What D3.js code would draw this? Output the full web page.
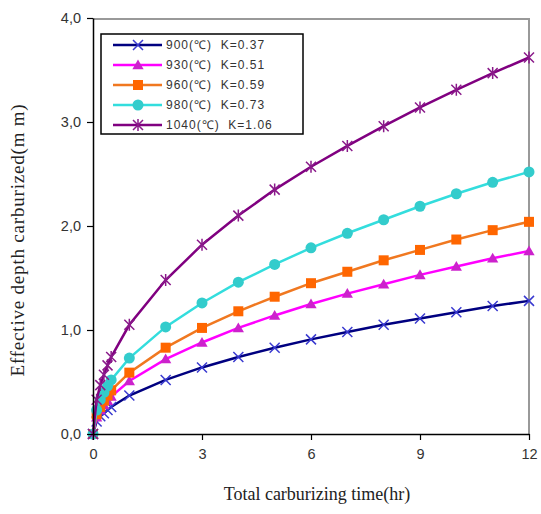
<!DOCTYPE html>
<html><head><meta charset="utf-8">
<script src="https://cdn.jsdelivr.net/npm/d3@7"></script>
<style>body{margin:0;background:#fff}svg{display:block}</style>
</head><body>
<svg id="c" width="541" height="514"></svg>
<script>
const times = [0, 0.1, 0.2, 0.3, 0.4, 0.5, 1, 2, 3, 4, 5, 6, 7, 8, 9, 10, 11, 12];
const s900  = [0, 0.12, 0.17, 0.20, 0.23, 0.26, 0.37, 0.52, 0.64, 0.74, 0.83, 0.91, 0.98, 1.05, 1.11, 1.17, 1.23, 1.28];
const s930  = [0, 0.16, 0.23, 0.28, 0.32, 0.36, 0.51, 0.72, 0.88, 1.02, 1.14, 1.25, 1.35, 1.44, 1.53, 1.61, 1.69, 1.76];
const s960  = [0, 0.19, 0.26, 0.32, 0.37, 0.42, 0.59, 0.83, 1.02, 1.18, 1.32, 1.45, 1.56, 1.67, 1.77, 1.87, 1.96, 2.04];
const s980  = [0, 0.23, 0.33, 0.40, 0.46, 0.52, 0.73, 1.03, 1.26, 1.46, 1.63, 1.79, 1.93, 2.06, 2.19, 2.31, 2.42, 2.52];
const s1040 = [0, 0.33, 0.47, 0.57, 0.66, 0.74, 1.05, 1.48, 1.82, 2.10, 2.35, 2.57, 2.77, 2.96, 3.14, 3.31, 3.47, 3.62];
const seriesNames = ["900(℃)  K=0.37", "930(℃)  K=0.51", "960(℃)  K=0.59", "980(℃)  K=0.73", "1040(℃)  K=1.06"];
const xTicks = [0, 3, 6, 9, 12];
const yTicks = [0, 1, 2, 3, 4];
const yTickLabels = ["0,0", "1,0", "2,0", "3,0", "4,0"];

const seriesData = [s900, s930, s960, s980, s1040];
const styles = [
  {line:"#000080", mark:"#3a3ad0", shape:"x"},
  {line:"#ff00ff", mark:"#cc22cc", shape:"tri"},
  {line:"#f07820", mark:"#ff6600", shape:"sq"},
  {line:"#33dddd", mark:"#33cccc", shape:"circ"},
  {line:"#800080", mark:"#8a1a8a", shape:"star"}
];

const svg = d3.select("#c");
const x = d3.scaleLinear().domain([0, 12]).range([93, 529]);
const y = d3.scaleLinear().domain([0, 4]).range([434, 18]);

// frame top/right gray
svg.append("path").attr("d", `M${x(0)},19H${x(12)}V${y(0)}`)
  .attr("fill","none").attr("stroke","#999").attr("stroke-width",2);

function marker(g, shape, color, cx, cy) {
  if (shape === "x") {
    const r = 5;
    g.append("path").attr("d", `M${cx-r},${cy-r}L${cx+r},${cy+r}M${cx-r},${cy+r}L${cx+r},${cy-r}`)
      .attr("stroke", color).attr("stroke-width", 1.5).attr("fill","none");
  } else if (shape === "star") {
    const r = 5;
    g.append("path").attr("d", `M${cx-r},${cy-r}L${cx+r},${cy+r}M${cx-r},${cy+r}L${cx+r},${cy-r}M${cx},${cy-r-1}L${cx},${cy+r+1}`)
      .attr("stroke", color).attr("stroke-width", 1.5).attr("fill","none");
  } else if (shape === "tri") {
    g.append("path").attr("d", d3.symbol(d3.symbolTriangle, 55)())
      .attr("transform", `translate(${cx},${cy+1})`).attr("fill", color);
  } else if (shape === "sq") {
    g.append("rect").attr("x", cx-5).attr("y", cy-5).attr("width",10).attr("height",10).attr("fill", color);
  } else {
    g.append("circle").attr("cx", cx).attr("cy", cy).attr("r", 5.5).attr("fill", color);
  }
}

const line = d3.line().x((d,i)=>x(times[i])).y(d=>y(d));
const plot = svg.append("g");
seriesData.forEach((vals, k) => {
  const st = styles[k];
  plot.append("path").datum(vals).attr("d", line)
    .attr("fill","none").attr("stroke", st.line).attr("stroke-width", 2.5);
  vals.forEach((v, i) => marker(plot, st.shape, st.mark, x(times[i]), y(v)));
});

// axes
const xa = svg.append("g").attr("transform", `translate(0,${y(0)})`)
  .call(d3.axisBottom(x).tickValues(xTicks).tickSize(6).tickSizeOuter(0).tickFormat(d3.format("d")));
const ya = svg.append("g").attr("transform", `translate(${x(0)},0)`)
  .call(d3.axisLeft(y).tickValues(yTicks).tickSize(6).tickSizeOuter(0).tickFormat((d,i)=>yTickLabels[i]));
[xa, ya].forEach(a => {
  a.select(".domain").attr("stroke","#000").attr("stroke-width",1.5);
  a.selectAll(".tick line").attr("stroke","#000").attr("stroke-width",1.2);
  a.selectAll("text").attr("font-family","Liberation Sans, Arial, sans-serif").attr("font-size",14.5).attr("fill","#333");
});
xa.selectAll("text").attr("dy","1.1em");
ya.selectAll("text").attr("x",-12);

// titles
svg.append("text").attr("x", 317).attr("y", 500).attr("text-anchor","middle")
  .attr("font-family","Liberation Serif, Times New Roman, serif").attr("font-size",18).attr("fill","#222")
  .text("Total carburizing time(hr)");
svg.append("text").attr("transform","translate(24,240) rotate(-90)").attr("text-anchor","middle")
  .attr("font-family","Liberation Serif, Times New Roman, serif").attr("font-size",19).attr("fill","#222")
  .attr("letter-spacing", 0.8)
  .text("Effective depth carburized(m m)");

// legend
const lg = svg.append("g");
lg.append("rect").attr("x",101).attr("y",34).attr("width",202).attr("height",100)
  .attr("fill","#fff").attr("stroke","#000").attr("stroke-width",1.5);
seriesNames.forEach((name, k) => {
  const st = styles[k];
  const yy = 45 + k*20;
  lg.append("line").attr("x1",113).attr("x2",162).attr("y1",yy).attr("y2",yy)
    .attr("stroke", st.line).attr("stroke-width", 2.5);
  marker(lg, st.shape, st.mark, 138, yy);
  lg.append("text").attr("x",166).attr("y",yy+4).attr("font-family","Liberation Sans, Arial, sans-serif")
    .attr("font-size",12).attr("letter-spacing",1).attr("fill","#333")
    .style("white-space","pre").attr("xml:space","preserve").text(name);
});
</script>
</body></html>
